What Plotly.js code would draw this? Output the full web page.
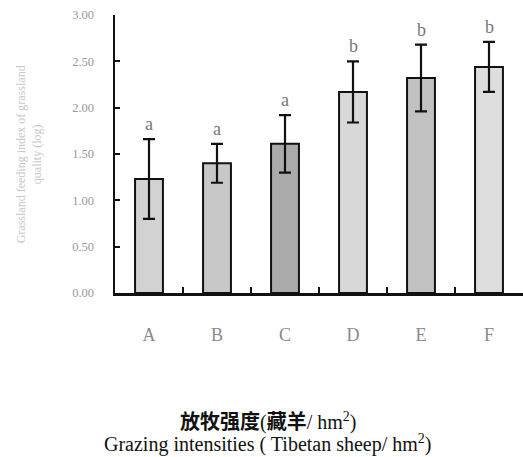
<!DOCTYPE html>
<html>
<head>
<meta charset="utf-8">
<script src="https://cdn.plot.ly/plotly-3.0.1.min.js"></script>
<style>html,body{margin:0;padding:0;background:#fff;}#chart{width:523px;height:457px;}</style>
</head>
<body>
<div id="chart"></div>
<script>
const categories = ['A', 'B', 'C', 'D', 'E', 'F'];
const values = [1.23, 1.40, 1.61, 2.17, 2.32, 2.44];
const errors = [0.43, 0.21, 0.31, 0.33, 0.36, 0.27];
const letters = ['a', 'a', 'a', 'b', 'b', 'b'];
const barColors = ['#d2d2d2', '#c8c8c8', '#ababab', '#d8d8d8', '#c2c2c2', '#dedede'];
const yTickVals = [0, 0.5, 1, 1.5, 2, 2.5, 3];
const yTickText = ['0.00', '0.50', '1.00', '1.50', '2.00', '2.50', '3.00'];

const trace = {
  type: 'bar',
  x: categories,
  y: values,
  width: 0.41,
  marker: {color: barColors, line: {color: '#111', width: 2}},
  error_y: {type: 'data', array: errors, visible: true, color: '#111', thickness: 2.2, width: 6},
  hoverinfo: 'none'
};

const annotations = categories.map((c, i) => ({
  x: c, y: values[i] + errors[i], xref: 'x', yref: 'y',
  text: letters[i], showarrow: false, yanchor: 'bottom', yshift: 3,
  font: {family: 'Liberation Serif, serif', size: 18, color: '#777'}
}));

annotations.push({
  xref: 'paper', yref: 'paper', x: -0.21, y: 0.5, textangle: -90,
  text: 'Grassland feeding index of grassland<br>quality (log)', showarrow: false,
  xanchor: 'center', yanchor: 'middle',
  font: {family: 'Liberation Serif, serif', size: 12, color: '#c8c8c8'}
});
annotations.push({
  xref: 'paper', yref: 'paper', x: 0.375, y: -0.464,
  text: '<span style="font-weight:bold">放牧强度</span>(<span style="font-weight:bold">藏羊</span>/ hm<sup>2</sup>)',
  showarrow: false, xanchor: 'center', yanchor: 'middle',
  font: {family: 'Liberation Serif, Noto Sans CJK SC', size: 20, color: '#111'}
});
annotations.push({
  xref: 'paper', yref: 'paper', x: 0.375, y: -0.542,
  text: 'Grazing intensities ( Tibetan sheep/ hm<sup>2</sup>)',
  showarrow: false, xanchor: 'center', yanchor: 'middle',
  font: {family: 'Liberation Serif, serif', size: 20, color: '#111'}
});

const layout = {
  width: 523, height: 457,
  margin: {l: 115, r: 0, t: 15, b: 164},
  paper_bgcolor: '#fff', plot_bgcolor: '#fff',
  showlegend: false,
  xaxis: {
    type: 'category', range: [-0.5, 5.5],
    showline: true, linecolor: '#111', linewidth: 2.5,
    ticks: 'inside', tickson: 'boundaries', ticklen: 6, tickwidth: 2, tickcolor: '#111',
    showgrid: false, zeroline: false,
    ticklabelstandoff: 24,
    tickfont: {family: 'Liberation Serif, serif', size: 18, color: '#8a8a8a'}
  },
  yaxis: {
    range: [0, 3], tickvals: yTickVals, ticktext: yTickText,
    showline: true, linecolor: '#111', linewidth: 2.5,
    ticks: 'inside', ticklen: 5, tickwidth: 2, tickcolor: '#111',
    showgrid: false, zeroline: false,
    ticklabelstandoff: 16,
    tickfont: {family: 'Liberation Serif, serif', size: 12.5, color: '#999'}
  },
  annotations: annotations
};

Plotly.newPlot('chart', [trace], layout, {displayModeBar: false, staticPlot: true});
</script>
</body>
</html>
